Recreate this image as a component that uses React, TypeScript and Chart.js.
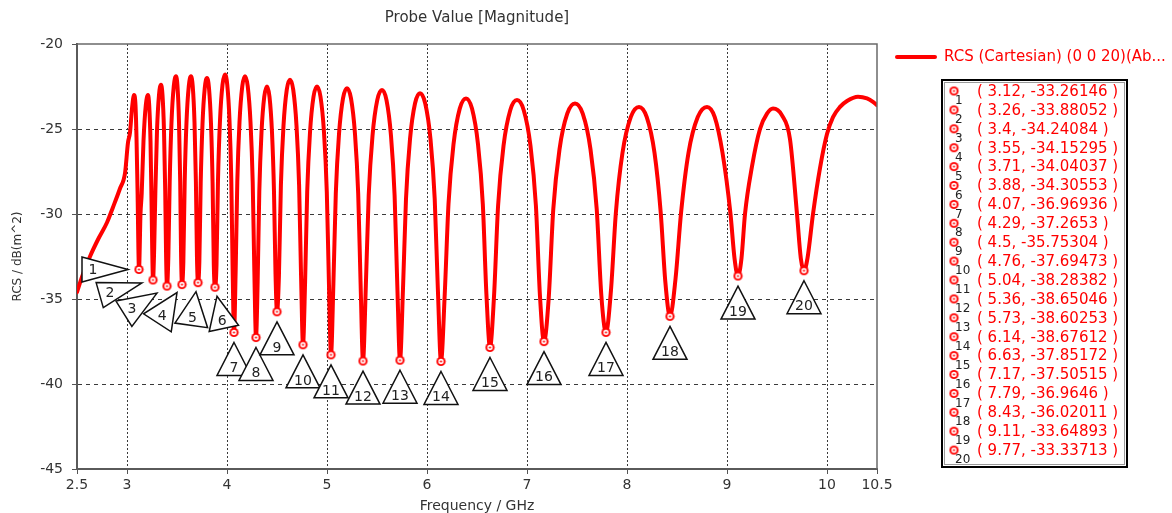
import React, { useEffect, useRef } from 'react';
import { Chart, registerables } from 'chart.js';

Chart.register(...registerables);

// ---------- data ----------
const freqGHz: number[] = [
  2.5, 2.55, 2.63, 2.71, 2.8, 2.86, 2.93, 2.98, 3.01, 3.03, 3.05, 3.07, 3.085, 3.095, 3.105,
  3.12,
  3.135, 3.147, 3.165, 3.188, 3.21, 3.222, 3.235, 3.245, 3.252,
  3.26,
  3.272, 3.284, 3.3, 3.32, 3.34, 3.355, 3.37, 3.382, 3.391,
  3.4,
  3.4135, 3.427, 3.445, 3.4675, 3.49, 3.505, 3.52, 3.532, 3.541,
  3.55,
  3.5635, 3.577, 3.595, 3.6175, 3.64, 3.6575, 3.675, 3.689, 3.6995,
  3.71,
  3.7235, 3.737, 3.755, 3.7775, 3.8, 3.82, 3.84, 3.856, 3.868,
  3.88,
  3.895, 3.91, 3.93, 3.955, 3.98, 4.0025, 4.025, 4.043, 4.0565,
  4.07,
  4.0865, 4.103, 4.125, 4.1525, 4.18, 4.2075, 4.235, 4.257, 4.2735,
  4.29,
  4.3065, 4.323, 4.345, 4.3725, 4.4, 4.425, 4.45, 4.47, 4.485,
  4.5,
  4.5195, 4.539, 4.565, 4.5975, 4.63, 4.6625, 4.695, 4.721, 4.7405,
  4.76,
  4.781, 4.802, 4.83, 4.865, 4.9, 4.935, 4.97, 4.998, 5.019,
  5.04,
  5.064, 5.088, 5.12, 5.16, 5.2, 5.24, 5.28, 5.312, 5.336,
  5.36,
  5.3885, 5.417, 5.455, 5.5025, 5.55, 5.595, 5.64, 5.676, 5.703,
  5.73,
  5.76, 5.79, 5.83, 5.88, 5.93, 5.9825, 6.035, 6.077, 6.1085,
  6.14,
  6.1775, 6.215, 6.265, 6.3275, 6.39, 6.45, 6.51, 6.558, 6.594,
  6.63,
  6.6705, 6.711, 6.765, 6.8325, 6.9, 6.9675, 7.035, 7.089, 7.1295,
  7.17,
  7.2165, 7.263, 7.325, 7.4025, 7.48, 7.5575, 7.635, 7.697, 7.7435,
  7.79,
  7.8395, 7.889, 7.955, 8.0375, 8.12, 8.1975, 8.275, 8.337, 8.3835,
  8.43,
  8.4855, 8.541, 8.615, 8.7075, 8.8, 8.8775, 8.955, 9.035, 9.075,
  9.11,
  9.145, 9.18, 9.25, 9.33, 9.4, 9.46, 9.55, 9.63, 9.7, 9.738,
  9.77,
  9.805, 9.86, 9.93, 10.0, 10.06, 10.13, 10.2, 10.31, 10.4, 10.46, 10.5,
];

const rcsDb: number[] = [
  -34.6, -33.7, -32.5, -31.5, -30.5, -29.6, -28.5, -27.6, -25.8, -25.2, -23.8, -23.0, -23.6, -25.5, -28.5,
  -33.26146,
  -30.0, -28.8, -25.7, -23.6, -23.0, -23.6, -25.7, -29.2, -32.0,
  -33.88052,
  -32.0, -28.6, -25.1, -23.0, -22.4, -23.0, -25.1, -28.6, -32.5,
  -34.24084,
  -32.5, -28.1, -24.6, -22.5, -21.9, -22.5, -24.6, -28.1, -32.5,
  -34.15295,
  -32.8, -28.1, -24.6, -22.5, -21.9, -22.5, -24.6, -28.1, -32.5,
  -34.04037,
  -32.8, -28.2, -24.7, -22.6, -22.0, -22.6, -24.7, -28.2, -33.0,
  -34.30553,
  -33.0, -28.0, -24.5, -22.4, -21.8, -22.4, -24.5, -28.0, -33.3,
  -36.96936,
  -33.4, -28.1, -24.6, -22.5, -21.9, -22.5, -24.6, -28.1, -33.4,
  -37.2653,
  -34.0, -28.7, -25.2, -23.1, -22.5, -23.1, -25.2, -28.7, -33.5,
  -35.75304,
  -33.6, -28.3, -24.8, -22.7, -22.1, -22.7, -24.8, -28.3, -33.6,
  -37.69473,
  -34.0, -28.7, -25.2, -23.1, -22.5, -23.1, -25.2, -28.7, -34.0,
  -38.28382,
  -34.1, -28.8, -25.3, -23.2, -22.6, -23.2, -25.3, -28.8, -34.1,
  -38.65046,
  -34.2, -28.9, -25.4, -23.3, -22.7, -23.3, -25.4, -28.9, -34.2,
  -38.60253,
  -34.4, -29.1, -25.6, -23.5, -22.9, -23.5, -25.6, -29.1, -34.4,
  -38.67612,
  -34.7, -29.4, -25.9, -23.8, -23.2, -23.8, -25.9, -29.4, -34.7,
  -37.85172,
  -34.8, -29.5, -26.0, -23.9, -23.3, -23.9, -26.0, -29.5, -34.8,
  -37.50515,
  -35.0, -29.7, -26.2, -24.1, -23.5, -24.1, -26.2, -29.7, -34.8,
  -36.9646,
  -34.5, -29.9, -26.4, -24.3, -23.7, -24.3, -26.4, -29.9, -34.0,
  -36.02011,
  -33.8, -29.9, -26.4, -24.3, -23.7, -24.3, -26.4, -30.0, -32.6,
  -33.64893,
  -32.6, -30.0, -27.2, -25.0, -24.1, -23.8, -24.2, -25.6, -30.0, -32.6,
  -33.33713,
  -32.6, -30.0, -27.3, -25.3, -24.3, -23.7, -23.35, -23.1, -23.2, -23.4, -23.6,
];

const markerFreq: number[] = [
  3.12, 3.26, 3.4, 3.55, 3.71, 3.88, 4.07, 4.29, 4.5, 4.76,
  5.04, 5.36, 5.73, 6.14, 6.63, 7.17, 7.79, 8.43, 9.11, 9.77,
];
const markerDb: number[] = [
  -33.26146, -33.88052, -34.24084, -34.15295, -34.04037, -34.30553, -36.96936, -37.2653, -35.75304, -37.69473,
  -38.28382, -38.65046, -38.60253, -38.67612, -37.85172, -37.50515, -36.9646, -36.02011, -33.64893, -33.33713,
];

const xTicks: number[] = [2.5, 3, 4, 5, 6, 7, 8, 9, 10, 10.5];
const yTicks: number[] = [-45, -40, -35, -30, -25, -20];

const chartTitle = 'Probe Value [Magnitude]';
const seriesLabel = 'RCS (Cartesian) (0 0 20)(Ab...';
const xTitle = 'Frequency / GHz';
const yTitle = 'RCS / dB(m^2)';

// ---------- layout / styling (not data) ----------
// callout triangles: [apex dx, apex dy (from marker, px), direction deg, height, base]
const upright = [0, 10, -90, 33, 34];
const calloutLayout: number[][] = [
  [-11, 0, 0, 46, 25],
  [-11, 3, -16, 44, 26],
  [-10, 7, -32, 39, 30],
  [-5, 8, -57, 36, 33],
  [-2, 9, -82, 34, 33],
  [2, 9, -102, 33, 30],
  upright, upright, upright, upright, upright, upright, upright,
  upright, upright, upright, upright, upright, upright, upright,
];

const FONT = '"DejaVu Sans", Verdana, sans-serif';
const RED = '#ff0000';
const TEXT = '#333333';

function makeMarker(): HTMLCanvasElement {
  const c = document.createElement('canvas');
  c.width = 11;
  c.height = 11;
  const g = c.getContext('2d')!;
  g.fillStyle = RED;
  g.beginPath(); g.arc(5.5, 5.5, 4.6, 0, Math.PI * 2); g.fill();
  g.fillStyle = '#ffffff';
  g.beginPath(); g.arc(5.5, 5.5, 2.7, 0, Math.PI * 2); g.fill();
  g.fillStyle = RED;
  g.beginPath(); g.arc(5.5, 5.5, 1.1, 0, Math.PI * 2); g.fill();
  return c;
}

export default function App() {
  const ref = useRef<HTMLCanvasElement>(null);

  useEffect(() => {
    document.body.style.margin = '0';
    const canvas = ref.current!;
    const marker = makeMarker();

    const overlay = {
      id: 'overlay',
      afterDatasetsDraw(chart: any) {
        const ctx = chart.ctx as CanvasRenderingContext2D;
        const xs = chart.scales.x;
        const ys = chart.scales.y;
        const { left, right, top, bottom } = chart.chartArea;
        ctx.save();
        // frame (top and right)
        ctx.strokeStyle = '#6a6a6a';
        ctx.lineWidth = 1.5;
        ctx.beginPath();
        ctx.moveTo(left, top);
        ctx.lineTo(right, top);
        ctx.lineTo(right, bottom);
        ctx.stroke();

        // callouts
        markerFreq.forEach((f, i) => {
          const mx = xs.getPixelForValue(f);
          const my = ys.getPixelForValue(markerDb[i]);
          const [dx, dy, ang, h, b] = calloutLayout[i];
          const a = (ang * Math.PI) / 180;
          const ux = Math.cos(a);
          const uy = Math.sin(a);
          const ax = mx + dx;
          const ay = my + dy;
          const bx = ax - h * ux;
          const by = ay - h * uy;
          const vx = -uy;
          const vy = ux;
          ctx.beginPath();
          ctx.moveTo(ax, ay);
          ctx.lineTo(bx + (vx * b) / 2, by + (vy * b) / 2);
          ctx.lineTo(bx - (vx * b) / 2, by - (vy * b) / 2);
          ctx.closePath();
          ctx.fillStyle = '#ffffff';
          ctx.fill();
          ctx.strokeStyle = '#111111';
          ctx.lineWidth = 1.5;
          ctx.lineJoin = 'miter';
          ctx.stroke();
          ctx.fillStyle = '#222222';
          ctx.font = `14px ${FONT}`;
          ctx.textAlign = 'center';
          ctx.textBaseline = 'middle';
          ctx.fillText(String(i + 1), ax - 0.76 * h * ux, ay - 0.76 * h * uy + 1);
        });
        ctx.restore();
      },
      afterDraw(chart: any) {
        const ctx = chart.ctx as CanvasRenderingContext2D;
        const { left, right } = chart.chartArea;
        ctx.save();
        // title
        ctx.fillStyle = TEXT;
        ctx.font = `15px ${FONT}`;
        ctx.textAlign = 'center';
        ctx.textBaseline = 'middle';
        ctx.fillText(chartTitle, (left + right) / 2, 18);

        // series legend
        ctx.strokeStyle = RED;
        ctx.lineWidth = 4;
        ctx.lineCap = 'round';
        ctx.beginPath();
        ctx.moveTo(897, 57);
        ctx.lineTo(935, 57);
        ctx.stroke();
        ctx.fillStyle = RED;
        ctx.textAlign = 'left';
        ctx.font = `15px ${FONT}`;
        ctx.fillText(seriesLabel, 944, 57);

        // marker list box
        const bx = 942, by = 80, bw = 185, bh = 387;
        ctx.fillStyle = '#ffffff';
        ctx.fillRect(bx, by, bw, bh);
        ctx.strokeStyle = '#9a9a9a';
        ctx.lineWidth = 1;
        ctx.strokeRect(bx + 2.5, by + 2.5, bw - 5, bh - 5);
        ctx.strokeStyle = '#000000';
        ctx.lineWidth = 2;
        ctx.strokeRect(bx, by, bw, bh);

        markerFreq.forEach((f, i) => {
          const ry = 92 + i * 18.9;
          ctx.drawImage(marker, 954 - 5.5, ry - 1 - 5.5);
          ctx.fillStyle = '#222222';
          ctx.font = `12px ${FONT}`;
          ctx.textAlign = 'left';
          ctx.textBaseline = 'middle';
          ctx.fillText(String(i + 1), 955, ry + 9);
          ctx.fillStyle = RED;
          ctx.font = `15px ${FONT}`;
          ctx.fillText(`( ${f}, ${markerDb[i]} )`, 977, ry);
        });
        ctx.restore();
      },
    };

    const isEdgeX = (v: number) => v === xTicks[0] || v === xTicks[xTicks.length - 1];
    const isEdgeY = (v: number) => v === yTicks[0] || v === yTicks[yTicks.length - 1];

    const chart = new Chart(canvas, {
      type: 'line',
      data: {
        datasets: [
          {
            label: 'markers',
            data: markerFreq.map((x, i) => ({ x, y: markerDb[i] })),
            showLine: false,
            pointStyle: marker as any,
            pointRadius: 5,
            pointHoverRadius: 5,
            borderColor: RED,
            backgroundColor: RED,
            order: 0,
          },
          {
            label: seriesLabel,
            data: freqGHz.map((x, i) => ({ x, y: rcsDb[i] })),
            borderColor: RED,
            backgroundColor: RED,
            borderWidth: 4,
            pointRadius: 0,
            cubicInterpolationMode: 'monotone',
            borderJoinStyle: 'round',
            borderCapStyle: 'round',
            order: 1,
          },
        ],
      },
      options: {
        responsive: false,
        animation: false,
        devicePixelRatio: 1,
        events: [],
        layout: { padding: { left: 0, top: 44, right: 295, bottom: 0 } },
        plugins: {
          legend: { display: false },
          title: { display: false },
          tooltip: { enabled: false },
        },
        scales: {
          x: {
            type: 'linear',
            min: xTicks[0],
            max: xTicks[xTicks.length - 1],
            afterBuildTicks: (scale: any) => {
              scale.ticks = xTicks.map((v) => ({ value: v }));
            },
            afterFit: (scale: any) => {
              scale.height = 44;
            },
            ticks: {
              autoSkip: false,
              maxRotation: 0,
              padding: 3,
              color: TEXT,
              font: { family: FONT, size: 14 },
              callback: (v: any) => String(v),
            },
            grid: {
              color: (c: any) => (c.tick && isEdgeX(c.tick.value) ? 'rgba(0,0,0,0)' : '#3a3a3a'),
              lineWidth: 1,
              tickLength: 5,
              tickColor: '#555555',
              tickBorderDash: [],
            },
            border: { display: true, color: '#5a5a5a', width: 2, dash: [2, 2] },
            title: {
              display: true,
              text: xTitle,
              color: TEXT,
              font: { family: FONT, size: 14, lineHeight: 1 },
              padding: { top: 0, bottom: 0 },
            },
          },
          y: {
            type: 'linear',
            min: yTicks[0],
            max: yTicks[yTicks.length - 1],
            afterBuildTicks: (scale: any) => {
              scale.ticks = yTicks.map((v) => ({ value: v }));
            },
            afterFit: (scale: any) => {
              scale.width = 77;
            },
            ticks: {
              padding: 9,
              color: TEXT,
              font: { family: FONT, size: 14 },
              callback: (v: any) => String(v),
            },
            grid: {
              color: (c: any) => (c.tick && isEdgeY(c.tick.value) ? 'rgba(0,0,0,0)' : '#3a3a3a'),
              lineWidth: 1,
              tickLength: 5,
              tickColor: '#555555',
              tickBorderDash: [],
            },
            border: { display: true, color: '#5a5a5a', width: 2, dash: [4, 4] },
            title: {
              display: true,
              text: yTitle,
              color: TEXT,
              font: { family: FONT, size: 12, lineHeight: 1.2 },
              padding: { top: 11, bottom: 0 },
            },
          },
        },
      },
      plugins: [overlay],
    } as any);

    return () => chart.destroy();
  }, []);

  return (
    <div style={{ width: 1172, height: 513, background: '#ffffff' }}>
      <canvas ref={ref} width={1172} height={513} style={{ display: 'block', width: 1172, height: 513 }} />
    </div>
  );
}
